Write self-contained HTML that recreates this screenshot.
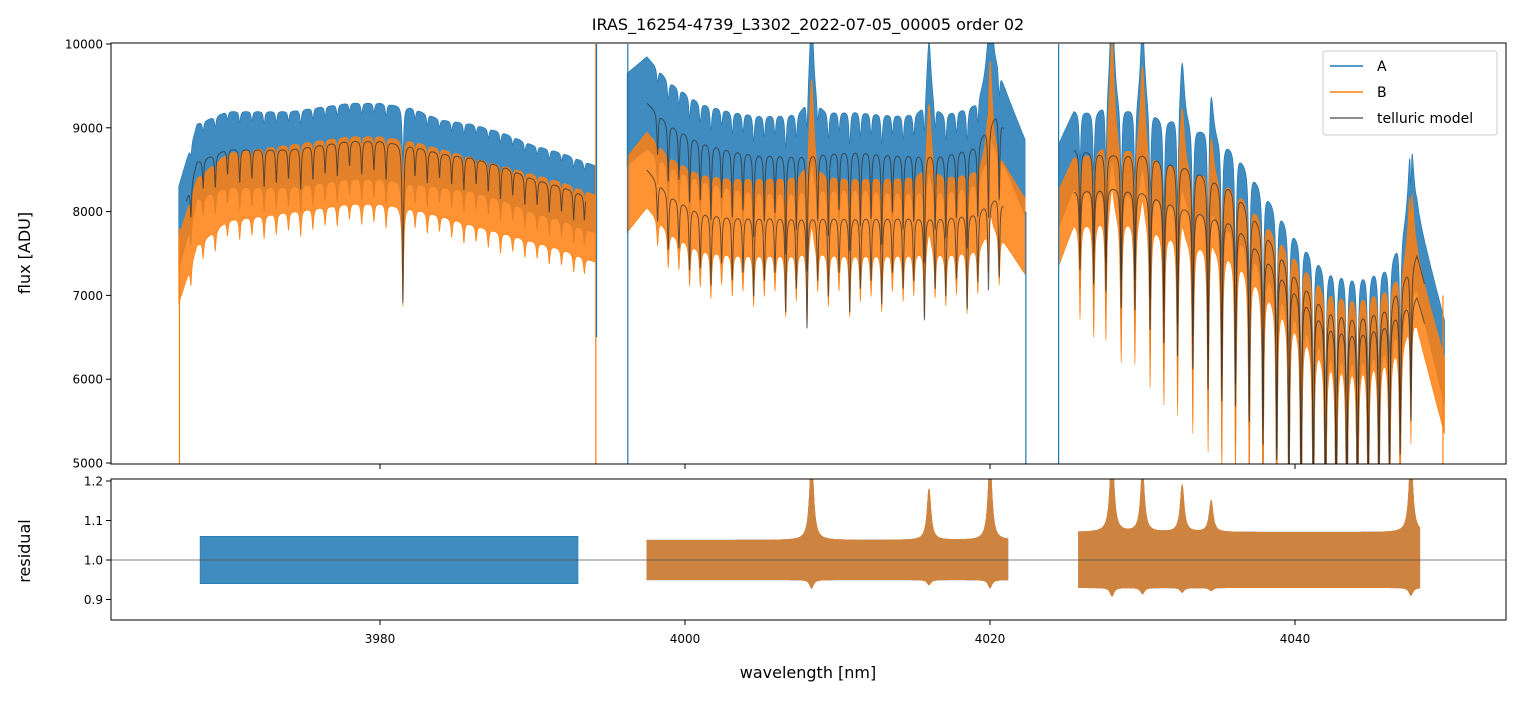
<!DOCTYPE html>
<html><head><meta charset="utf-8">
<style>
body{margin:0;background:#fff;font-family:"Liberation Sans","DejaVu Sans",sans-serif;}
svg text{font-family:"DejaVu Sans","Liberation Sans",sans-serif;}
</style></head>
<body>
<svg id="chart" width="1520" height="696" xmlns="http://www.w3.org/2000/svg">
<defs>
<clipPath id="cTop"><rect x="111" y="43" width="1395" height="421"/></clipPath>
<clipPath id="cBot"><rect x="111" y="479" width="1395" height="141"/></clipPath>
</defs>
<rect width="1520" height="696" fill="#fff"/>
<text x="808" y="30" text-anchor="middle" font-size="16">IRAS_16254-4739_L3302_2022-07-05_00005  order 02</text>
<g id="topArea" clip-path="url(#cTop)"></g>
<g id="botArea" clip-path="url(#cBot)"></g>
<g id="axes"></g>
</svg>
<script>
// ---- data ----
const segW = [[3966.8,3968,3970,3972,3974,3976,3978,3980,3982,3984,3986,3988,3990,3992,3994.1],
              [3996.2,3997.5,3999,4001,4003,4005,4008,4011,4014,4017,4019,4020.5,4022.3],
              [4024.5,4025.5,4028,4030,4033,4036,4038,4040,4042,4044,4046,4048,4049.8]];
const contA = [[7800,8600,8750,8750,8750,8800,8850,8850,8800,8700,8650,8550,8400,8300,8150],
               [9100,9300,9050,8850,8750,8700,8700,8750,8700,8700,8800,9200,8400],
               [8300,8750,8700,8700,8550,8300,7800,7300,6900,6800,6900,7500,6200]];
const contB = [[7300,8000,8300,8350,8400,8450,8500,8500,8450,8350,8250,8150,8050,7950,7800],
               [8200,8500,8200,8000,7950,7950,7950,7950,7950,7950,8000,8200,7700],
               [7800,8250,8300,8250,8050,7900,7500,7100,6700,6600,6700,7000,5800]];
const halfA = [[500,450,450,450,450,450,450,450,450,400,400,400,400,400,400],
               [550,550,500,450,450,450,450,450,450,450,450,450,450],
               [500,450,450,450,450,450,450,450,450,450,450,450,500]];
const halfB = [[400,400,400,400,400,400,400,400,400,400,400,400,400,400,400],
               [450,450,450,450,450,450,450,450,450,450,450,450,450],
               [450,400,400,400,400,400,400,400,400,400,400,400,450]];
const lineC = [3967.6,3968.4,3969.2,3970,3970.8,3971.6,3972.4,3973.2,3974,3974.8,3975.6,3976.4,3977.2,3978,3978.8,3979.6,3980.4,3981.5,3982.3,3983.1,3983.9,3984.7,3985.5,3986.3,3987.1,3987.9,3988.7,3989.5,3990.3,3991.1,3991.9,3992.7,3993.4,
  3998.2,3998.9,3999.6,4000.3,4001,4001.7,4002.4,4003.1,4003.8,4004.5,4005.2,4005.9,4006.6,4007.3,4008,4008.7,4009.4,4010.1,4010.8,4011.5,4012.2,4012.9,4013.6,4014.3,4015,4015.7,4016.4,4017.1,4017.8,4018.5,4019.2,4019.9,4020.6,
  4025.9,4026.8,4027.6,4028.6,4029.5,4030.5,4031.4,4032.3,4033.3,4034.3,4035.2,4036.1,4037,4037.9,4038.8,4039.6,4040.4,4041.2,4042,4042.7,4043.4,4044.1,4044.8,4045.5,4046.2,4046.9,4047.6];
const lineD = [400,350,400,300,400,350,450,400,350,500,400,350,400,300,400,350,450,1900,350,400,300,350,400,300,350,400,300,350,300,350,300,350,300,
  500,700,600,800,700,900,600,800,700,1000,800,700,1200,900,1400,800,1000,700,1200,900,800,1100,700,900,800,1300,900,1000,800,1200,900,1100,1000,
  1000,1200,1300,1500,1500,1700,1800,1900,2000,2200,2300,2300,2300,2400,2400,2500,2600,2500,2500,2400,2300,2200,2100,2000,1900,1800,1500];
const modelRange = [[3967.3,3993.5],[3997.5,4020.9],[4025.5,4048.5]];
const emisC = [4008.3,4016,4020,4028,4030,4032.6,4034.5,4047.6];
const emisH = [1200,900,1300,1400,1100,800,600,1400];
const spikeW = [3966.85,3994.15,3994.2,3996.25,4022.35,4024.5,4049.7];
const spikeTop = [7800,10000,10000,10000,8000,10000,7000];
const spikeBot = [4900,4900,6500,4900,4900,4900,4900];
const resRange = [[3968.2,3993],[3997.5,4021.2],[4025.8,4048.2]];
const resHalf = [0.06,0.05,0.07];
const resBump = [0.22,0.13,0.21,0.22,0.16,0.12,0.08,0.2];
const xTicks = [3980,4000,4020,4040];
const yTicks = [5000,6000,7000,8000,9000,10000];
const rTicks = [0.9,1.0,1.1,1.2];

// ---- scales ----
const X = w => 111 + (w - 3962.36) * 15.25;
const Y = f => 463 - (f - 5000) * 0.0838;
const R = r => 560 - (r - 1) * 395;
const NS = "http://www.w3.org/2000/svg";
function mk(tag, attrs, parent){const e=document.createElementNS(NS,tag);for(const k in attrs)e.setAttribute(k,attrs[k]);parent.appendChild(e);return e;}
function interp(ws, vs, w){ if(w<=ws[0])return vs[0]; for(let i=1;i<ws.length;i++){ if(w<=ws[i]){const t=(w-ws[i-1])/(ws[i]-ws[i-1]);return vs[i-1]+t*(vs[i]-vs[i-1]);} } return vs[vs.length-1]; }
function dip(w, scale, g){ let d=0; for(let i=0;i<lineC.length;i++){const x=(w-lineC[i])/g; d+=lineD[i]*scale/(1+x*x);} return d; }
function emis(w){ let d=0; for(let i=0;i<emisC.length;i++){const x=(w-emisC[i])/0.18; d+=emisH[i]/(1+x*x);} return d; }
const gTop = document.getElementById('topArea');
const gBot = document.getElementById('botArea');
const gAxes = document.getElementById('axes');

function band(seg, cont, half, scale, color, name){
  const ws = segW[seg]; const up=[], lo=[];
  const sc = seg===2 ? scale : scale*0.55;
  for(let w=ws[0]; w<=ws[ws.length-1]; w+=0.02){
    const c = interp(ws, cont[seg], w);
    const d = dip(w, sc, 0.06);
    const h = interp(ws, half[seg], w);
    const e = emis(w);
    up.push(X(w).toFixed(1)+","+Y(c+h+e-d*0.6).toFixed(1));
    lo.unshift(X(w).toFixed(1)+","+Y(c-h+e*0.3-d*1.2).toFixed(1));
  }
  const p = mk('polygon',{points:up.concat(lo).join(' '),fill:color,'fill-opacity':0.85,stroke:color,'stroke-width':0.6}, gTop);
  
  
}
for(let s=0;s<3;s++) band(s, contA, halfA, 1.0, '#1f77b4', 'series-a-seg'+(s+1));
for(let s=0;s<3;s++) band(s, contB, halfB, 0.95, '#ff7f0e', 'series-b-seg'+(s+1));
spikeW.forEach((w,i)=>{
  const c = (i===0||i===1||i===6) ? '#ff7f0e' : '#1f77b4';
  const l=mk('line',{x1:X(w),x2:X(w),y1:Y(spikeTop[i]),y2:Y(spikeBot[i]),stroke:c,'stroke-width':1.2},gTop);
  
  
});
function model(seg, cont, scale, name){
  const [a,b]=modelRange[seg]; const pts=[];
  for(let w=a; w<=b; w+=0.01){ pts.push(X(w).toFixed(1)+","+Y(interp(segW[seg],cont[seg],w)-dip(w,scale,0.05)).toFixed(1)); }
  const p=mk('polyline',{points:pts.join(' '),fill:'none',stroke:'#333','stroke-opacity':0.75,'stroke-width':1},gTop);
  
  
}
for(let s=0;s<3;s++){ model(s, contA, 1.0, 'telluric-model-a'); if(s>0) model(s, contB, 0.95, 'telluric-model-b'); }

function resid(seg, color, name){
  const [a,b]=resRange[seg]; const up=[], lo=[];
  for(let w=a; w<=b; w+=0.03){
    let e=0; for(let i=0;i<emisC.length;i++){const x=(w-emisC[i])/0.15; e+=resBump[i]/(1+x*x);}
    const h=resHalf[seg];
    up.push(X(w).toFixed(1)+","+R(1+h+e).toFixed(1));
    lo.unshift(X(w).toFixed(1)+","+R(1-h-e*0.1).toFixed(1));
  }
  const p=mk('polygon',{points:up.concat(lo).join(' '),fill:color,'fill-opacity':0.85,stroke:color,'stroke-width':0.6},gBot);
  
  
}
resid(0,'#1f77b4','residual-a-seg1');
resid(1,'#1f77b4','residual-a-seg2'); resid(2,'#1f77b4','residual-a-seg3');
resid(1,'#e8822a','residual-b-seg2'); resid(2,'#e8822a','residual-b-seg3');
const ref=mk('line',{x1:111,x2:1506,y1:R(1),y2:R(1),stroke:'#555','stroke-width':0.7},gBot);



[[111,43,1395,421,'flux-axes-frame'],[111,479,1395,141,'residual-axes-frame']].forEach(([x,y,w,h,n])=>{
  const r=mk('rect',{x:x,y:y,width:w,height:h,fill:'none',stroke:'#000','stroke-width':1},gAxes);
  
  
});
xTicks.forEach(t=>{
  mk('line',{x1:X(t),x2:X(t),y1:464,y2:469,stroke:'#000'},gAxes);
  mk('line',{x1:X(t),x2:X(t),y1:620,y2:625,stroke:'#000'},gAxes);
  const tx=mk('text',{x:X(t),y:643,'text-anchor':'middle','font-size':12},gAxes);
  tx.textContent=t;
  
  
});
yTicks.forEach(t=>{
  mk('line',{x1:106,x2:111,y1:Y(t),y2:Y(t),stroke:'#000'},gAxes);
  const tx=mk('text',{x:103,y:Y(t)+4.5,'text-anchor':'end','font-size':12},gAxes);
  tx.textContent=t;
  
  
});
rTicks.forEach(t=>{
  mk('line',{x1:106,x2:111,y1:R(t),y2:R(t),stroke:'#000'},gAxes);
  const tx=mk('text',{x:103,y:R(t)+4.5,'text-anchor':'end','font-size':12},gAxes);
  tx.textContent=t.toFixed(1);
  
  
});
</script>
<svg style="position:absolute;left:0;top:0" width="1520" height="696" xmlns="http://www.w3.org/2000/svg">
<text x="808" y="678" text-anchor="middle" font-size="16" font-family="DejaVu Sans, Liberation Sans, sans-serif">wavelength [nm]</text>
<text transform="translate(30,253) rotate(-90)" text-anchor="middle" font-size="16" font-family="DejaVu Sans, Liberation Sans, sans-serif">flux [ADU]</text>
<text transform="translate(30,551) rotate(-90)" text-anchor="middle" font-size="16" font-family="DejaVu Sans, Liberation Sans, sans-serif">residual</text>
<g font-family="DejaVu Sans, Liberation Sans, sans-serif" font-size="14">
<rect x="1323" y="51" width="174" height="84" rx="3" fill="#fff" fill-opacity="0.85" stroke="#ccc"/>
<line x1="1330" x2="1363" y1="66" y2="66" stroke="#1f77b4" stroke-width="1.5"/>
<text x="1377" y="71">A</text>
<line x1="1330" x2="1363" y1="92" y2="92" stroke="#ff7f0e" stroke-width="1.5"/>
<text x="1377" y="97">B</text>
<line x1="1330" x2="1363" y1="118" y2="118" stroke="#666" stroke-width="1.5"/>
<text x="1377" y="123">telluric model</text>
</g>
</svg>
</body></html>
